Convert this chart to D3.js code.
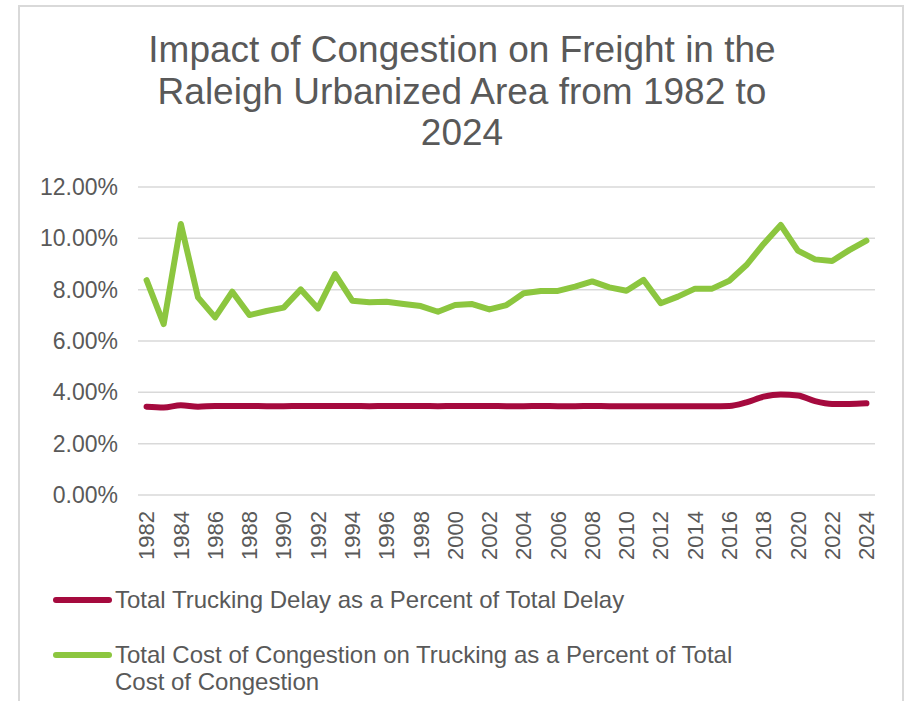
<!DOCTYPE html>
<html>
<head>
<meta charset="utf-8">
<script src="https://cdn.jsdelivr.net/npm/d3@7"></script>
<style>
  body { margin: 0; background: #fff; }
  text { font-family: "Liberation Sans", Arial, sans-serif; fill: #595959; }
</style>
</head>
<body>
<div id="chart"></div>
<script>
// years on the category axis
const years = d3.range(1982, 2025)

// Total Trucking Delay as a Percent of Total Delay (%)
const delayPct = [3.44, 3.41, 3.50, 3.44, 3.47, 3.47, 3.47, 3.46, 3.46, 3.47,
    3.47, 3.47, 3.47, 3.46, 3.47, 3.47, 3.47, 3.46, 3.47, 3.47,
    3.47, 3.46, 3.46, 3.47, 3.46, 3.46, 3.47, 3.46, 3.46, 3.46,
    3.46, 3.46, 3.46, 3.46, 3.47, 3.61, 3.83, 3.92, 3.88, 3.66,
    3.55, 3.55, 3.57]

// Total Cost of Congestion on Trucking as a Percent of Total Cost of Congestion (%)
const costPct = [8.37, 6.66, 10.56, 7.70, 6.92, 7.92, 7.01, 7.17, 7.30, 8.01,
    7.27, 8.61, 7.57, 7.51, 7.53, 7.44, 7.36, 7.14, 7.40, 7.44,
    7.23, 7.40, 7.86, 7.95, 7.95, 8.12, 8.32, 8.09, 7.96, 8.38,
    7.47, 7.73, 8.04, 8.04, 8.35, 8.96, 9.78, 10.52, 9.52, 9.18,
    9.12, 9.54, 9.91]

const yTicks = [0, 2, 4, 6, 8, 10, 12]
const titleLines = ["Impact of Congestion on Freight in the", "Raleigh Urbanized Area from 1982 to", "2024"]
const legendItems = [
    { label: ["Total Trucking Delay as a Percent of Total Delay"], color: "#A50A3E" },
    { label: ["Total Cost of Congestion on Trucking as a Percent of Total", "Cost of Congestion"], color: "#8CC63F" }
]

const width = 905
const height = 701
const margin = { top: 187, right: 30, bottom: 206, left: 138 }

const svg = d3.select("#chart")
    .append("svg")
    .attr("width", width)
    .attr("height", height)

// chart frame
svg.append("rect")
    .attr("x", 19).attr("y", 6)
    .attr("width", 884).attr("height", 720)
    .attr("fill", "none")
    .attr("stroke", "#d9d9d9")
    .attr("stroke-width", 2)

svg.append("text")
    .attr("text-anchor", "middle")
    .attr("font-size", "37px")
    .selectAll("tspan")
    .data(titleLines)
    .join("tspan")
    .attr("x", 462)
    .attr("y", (d, i) => 62 + i * 41.5)
    .text(d => d)

const x = d3.scaleBand()
    .domain(years)
    .range([margin.left, width - margin.right])

const y = d3.scaleLinear()
    .domain([0, 12])
    .range([height - margin.bottom, margin.top])

const g = svg.append("g")

// gridlines
g.selectAll("line.grid")
    .data(yTicks)
    .join("line")
    .attr("class", "grid")
    .attr("x1", margin.left)
    .attr("x2", width - margin.right)
    .attr("y1", d => y(d))
    .attr("y2", d => y(d))
    .attr("stroke", "#d9d9d9")
    .attr("stroke-width", 1.5)

g.selectAll("text.ylab")
    .data(yTicks)
    .join("text")
    .attr("class", "ylab")
    .attr("x", 118)
    .attr("y", d => y(d))
    .attr("dy", "0.35em")
    .attr("text-anchor", "end")
    .attr("font-size", "23px")
    .text(d => d3.format(".2f")(d) + "%")

g.selectAll("text.xlab")
    .data(years.filter(yr => (yr - 1982) % 2 === 0))
    .join("text")
    .attr("class", "xlab")
    .attr("text-anchor", "end")
    .attr("font-size", "22px")
    .attr("transform", d => "translate(" + (x(d) + x.bandwidth() / 2) + "," + 511 + ") rotate(-90)")
    .attr("dy", "0.35em")
    .text(d => d)

const cx = (d, i) => x(years[i]) + x.bandwidth() / 2

const delayLine = d3.line()
    .x(cx)
    .y(d => y(d))
    .curve(d3.curveMonotoneX)

const costLine = d3.line()
    .x(cx)
    .y(d => y(d))

g.append("path")
    .datum(delayPct)
    .attr("d", delayLine)
    .attr("fill", "none")
    .attr("stroke", legendItems[0].color)
    .attr("stroke-width", 6)
    .attr("stroke-linecap", "round")
    .attr("stroke-linejoin", "round")

g.append("path")
    .datum(costPct)
    .attr("d", costLine)
    .attr("fill", "none")
    .attr("stroke", legendItems[1].color)
    .attr("stroke-width", 6)
    .attr("stroke-linecap", "round")
    .attr("stroke-linejoin", "round")

// legend
const legendY = [600, 655]
legendItems.forEach((item, i) => {
    svg.append("line")
        .attr("x1", 56).attr("x2", 109)
        .attr("y1", legendY[i]).attr("y2", legendY[i])
        .attr("stroke", item.color)
        .attr("stroke-width", 6)
        .attr("stroke-linecap", "round")
    svg.append("text")
        .attr("font-size", "24px")
        .selectAll("tspan")
        .data(item.label)
        .join("tspan")
        .attr("x", 115)
        .attr("y", (d, k) => legendY[i] + 8 + k * 27)
        .text(d => d)
})
</script>
</body>
</html>
